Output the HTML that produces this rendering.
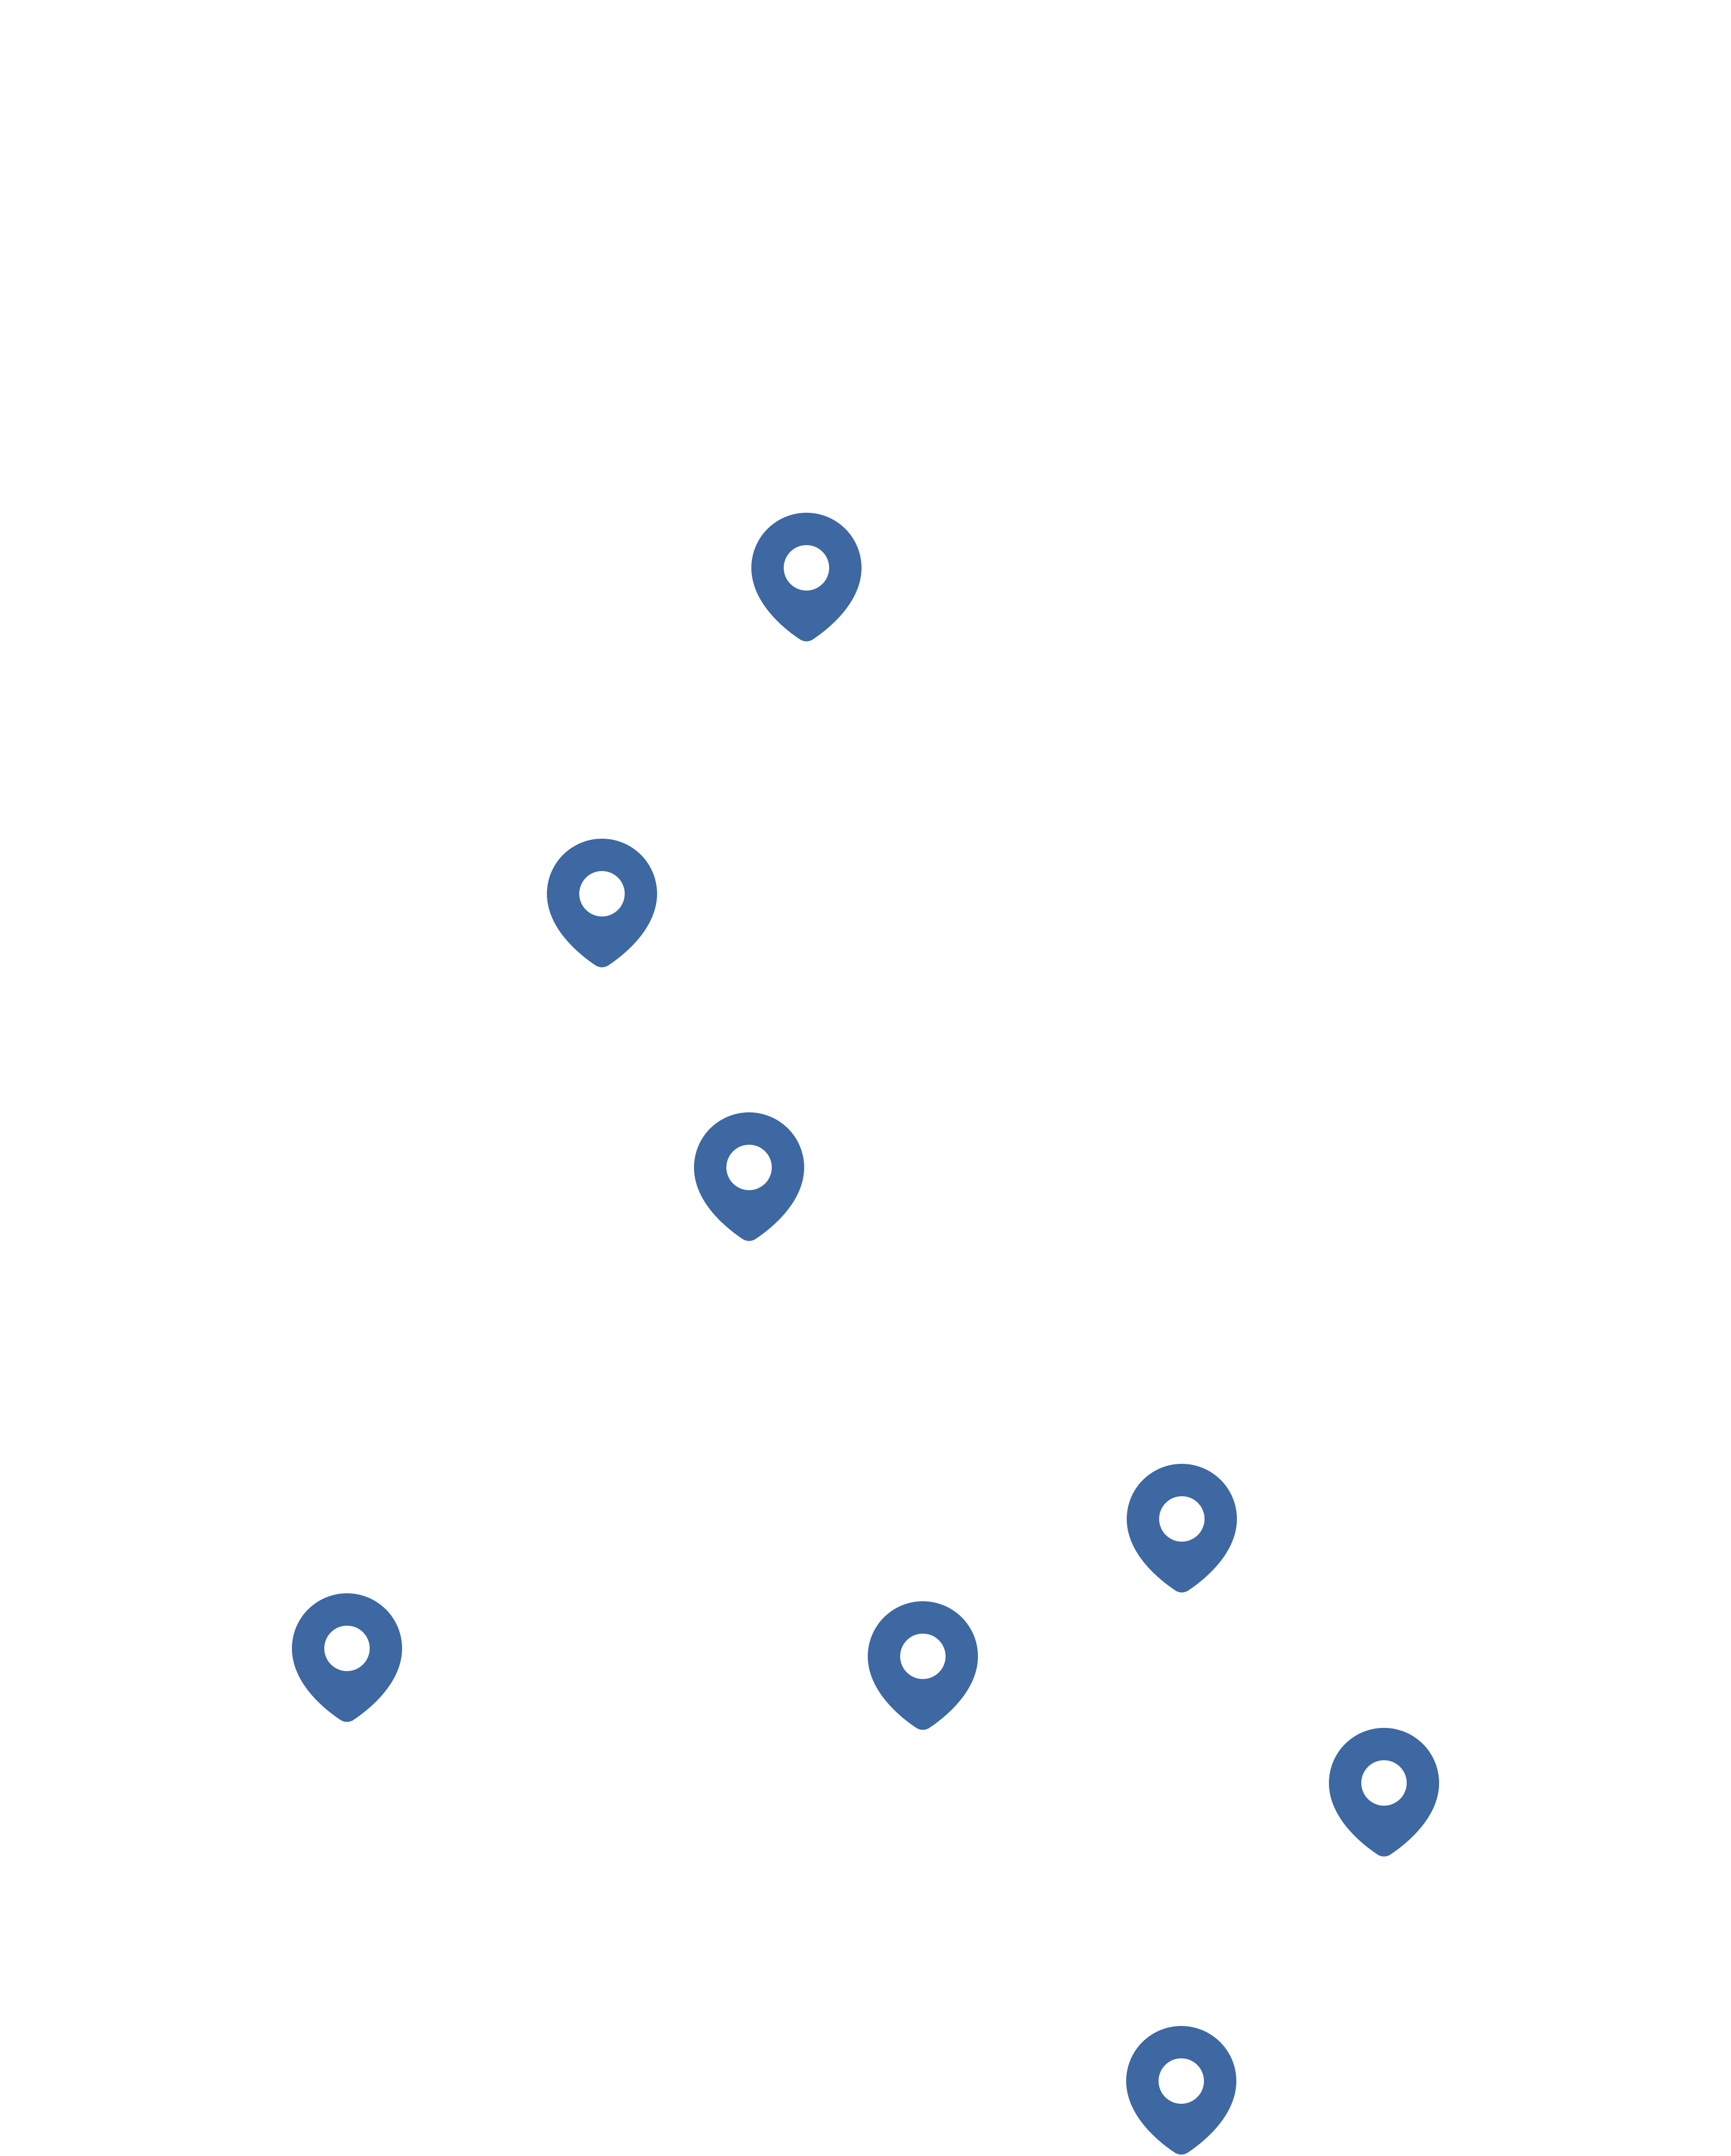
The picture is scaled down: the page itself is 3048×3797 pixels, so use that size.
<!DOCTYPE html>
<html><head><meta charset="utf-8"><style>
html,body{margin:0;padding:0;background:#fff;}
svg{display:block;}
</style></head><body>
<svg width="3048" height="3797" viewBox="0 0 3048 3797" xmlns="http://www.w3.org/2000/svg">
<defs>
<path id="pin" fill-rule="evenodd" fill="#3D68A2" d="M-97,0 A97,97 0 0 1 97,0 C97,58 45,104 10,127 Q0,132 -10,127 C-45,104 -97,58 -97,0 Z M-40,0 A40,40 0 1 0 40,0 A40,40 0 1 0 -40,0 Z"/>
</defs>
<rect width="3048" height="3797" fill="#fff"/>
<use href="#pin" transform="translate(1420,1000)"/>
<use href="#pin" transform="translate(1060,1574)"/>
<use href="#pin" transform="translate(1319,2056)"/>
<use href="#pin" transform="translate(2081,2675)"/>
<use href="#pin" transform="translate(611,2903)"/>
<use href="#pin" transform="translate(1625,2917)"/>
<use href="#pin" transform="translate(2437,3140)"/>
<use href="#pin" transform="translate(2080,3665)"/>
</svg>
</body></html>
